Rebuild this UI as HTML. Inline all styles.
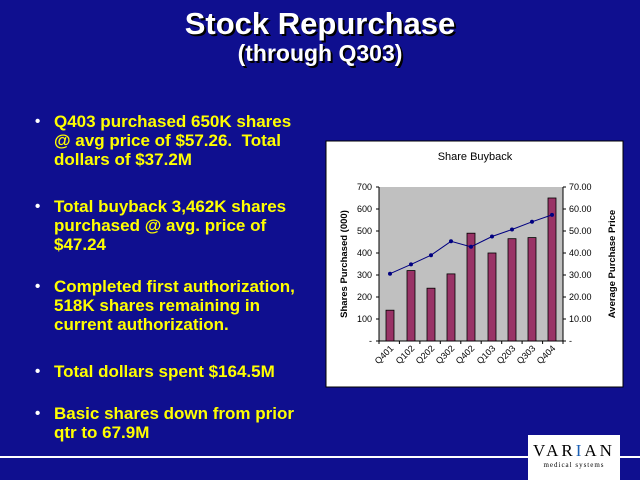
<!DOCTYPE html>
<html><head><style>
body{margin:0;width:640px;height:480px;background:#0f0f8f;overflow:hidden;position:relative;font-family:"Liberation Sans",sans-serif}
.t{position:absolute;left:0;width:640px;text-align:center;color:#fff;font-weight:bold;text-shadow:2px 2px 0 #000}
.b{position:absolute;left:54px;width:252px;color:#ffff00;font-weight:bold;font-size:17px;line-height:19px}
.b:before{content:"•";position:absolute;left:-19px;color:#fff;font-size:15px}
</style></head><body>
<div class="t" style="top:6px;font-size:31px">Stock Repurchase</div>
<div class="t" style="top:40px;font-size:23px">(through Q303)</div>
<div class="b" style="top:112px">Q403 purchased 650K shares @ avg price of $57.26.&nbsp; Total dollars of $37.2M</div>
<div class="b" style="top:197px">Total buyback 3,462K shares purchased @ avg. price of $47.24</div>
<div class="b" style="top:277px">Completed first authorization, 518K shares remaining in current authorization.</div>
<div class="b" style="top:362px">Total dollars spent $164.5M</div>
<div class="b" style="top:404px">Basic shares down from prior qtr to 67.9M</div>
<div style="position:absolute;left:0;top:456px;width:640px;height:2px;background:#fff"></div>
<div style="position:absolute;left:528px;top:435px;width:92px;height:45px;background:#fff;text-align:center;font-family:'Liberation Serif',serif">
<div style="font-size:17px;letter-spacing:3px;margin-top:6px;color:#000">VAR<span style="color:#1a5fb4">I</span>AN</div>
<div style="font-size:7px;letter-spacing:1px;color:#000">medical systems</div></div>
<svg style="position:absolute;left:0;top:0" width="640" height="480" font-family="Liberation Sans, sans-serif">
<rect x="326" y="141" width="297" height="246" fill="#fff" stroke="#000"/>
<text x="475" y="160" font-size="11" text-anchor="middle">Share Buyback</text>
<rect x="379" y="187" width="184" height="154" fill="#c0c0c0"/>
<g stroke="#000" fill="none"><path d="M379 187V341H563V187"/>
<path d="M376 187h3M376 209h3M376 231h3M376 253h3M376 275h3M376 297h3M376 319h3M376 341h3M563 187h3M563 209h3M563 231h3M563 253h3M563 275h3M563 297h3M563 319h3M563 341h3"/>
<path d="M379 341v3M399.4 341v3M419.9 341v3M440.3 341v3M460.8 341v3M481.2 341v3M501.7 341v3M522.1 341v3M542.6 341v3M563 341v3"/></g>
<g font-size="9" text-anchor="end"><text x="372" y="190">700</text><text x="372" y="212">600</text><text x="372" y="234">500</text><text x="372" y="256">400</text><text x="372" y="278">300</text><text x="372" y="300">200</text><text x="372" y="322">100</text><text x="372" y="344">-</text></g>
<g font-size="9"><text x="569" y="190">70.00</text><text x="569" y="212">60.00</text><text x="569" y="234">50.00</text><text x="569" y="256">40.00</text><text x="569" y="278">30.00</text><text x="569" y="300">20.00</text><text x="569" y="322">10.00</text><text x="569" y="344">-</text></g>
<text transform="translate(347,264) rotate(-90)" font-size="9.5" font-weight="bold" text-anchor="middle">Shares Purchased (000)</text>
<text transform="translate(615,264) rotate(-90)" font-size="9.5" font-weight="bold" text-anchor="middle">Average Purchase Price</text>
<g fill="#993366" stroke="#000" stroke-width="0.8">
<rect x="386" y="310.2" width="8" height="30.8"/><rect x="407" y="270.6" width="8" height="70.4"/><rect x="427" y="288.2" width="8" height="52.8"/><rect x="447" y="273.9" width="8" height="67.1"/><rect x="467" y="233.2" width="8" height="107.8"/><rect x="488" y="253" width="8" height="88"/><rect x="508" y="238.7" width="8" height="102.3"/><rect x="528" y="237.6" width="8" height="103.4"/><rect x="548" y="198" width="8" height="143"/></g>
<polyline fill="none" stroke="#000080" points="390,273.7 411,264.4 431,255.2 451,241.3 471,246.8 492,236.5 512,229.5 532,221.8 552,214.9"/>
<g fill="#000080"><circle cx="390" cy="273.7" r="2"/><circle cx="411" cy="264.4" r="2"/><circle cx="431" cy="255.2" r="2"/><circle cx="451" cy="241.3" r="2"/><circle cx="471" cy="246.8" r="2"/><circle cx="492" cy="236.5" r="2"/><circle cx="512" cy="229.5" r="2"/><circle cx="532" cy="221.8" r="2"/><circle cx="552" cy="214.9" r="2"/></g>
<g font-size="9" text-anchor="end">
<text transform="translate(394,349) rotate(-45)">Q401</text><text transform="translate(415,349) rotate(-45)">Q102</text><text transform="translate(435,349) rotate(-45)">Q202</text><text transform="translate(455,349) rotate(-45)">Q302</text><text transform="translate(475,349) rotate(-45)">Q402</text><text transform="translate(496,349) rotate(-45)">Q103</text><text transform="translate(516,349) rotate(-45)">Q203</text><text transform="translate(536,349) rotate(-45)">Q303</text><text transform="translate(556,349) rotate(-45)">Q404</text></g>
</svg>
</body></html>
